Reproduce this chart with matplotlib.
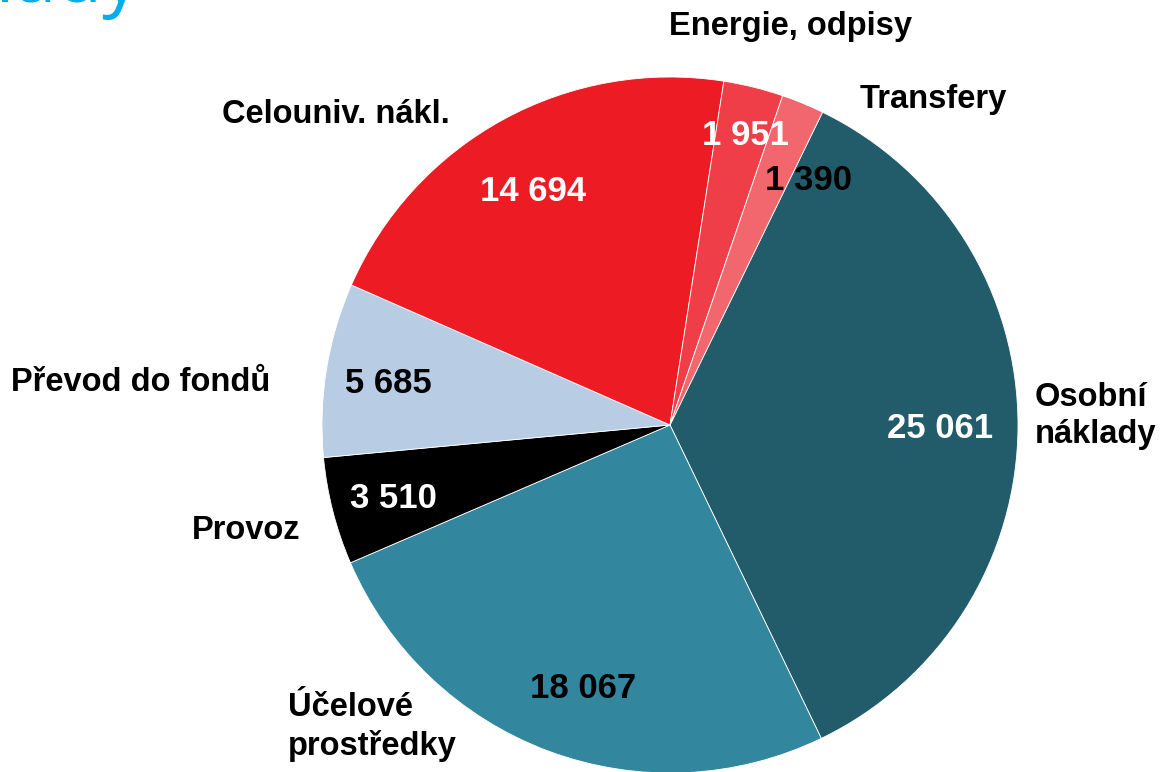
import matplotlib.pyplot as plt

plt.rcParams['font.family'] = ['Liberation Sans Narrow', 'Liberation Sans', 'DejaVu Sans']

# cost structure (thousands CZK), clockwise from the top-right
categories = ['Osobní\nnáklady', 'Účelové\nprostředky', 'Provoz', 'Převod do fondů',
              'Celouniv. nákl.', 'Energie, odpisy', 'Transfery']
values = [25061, 18067, 3510, 5685, 14694, 1951, 1390]
value_labels = ['25 061', '18 067', '3 510', '5 685', '14 694', '1 951', '1 390']
colors = ['#225B6A', '#32869E', '#000000', '#B8CCE4', '#ED1C24', '#EF3E47', '#F2666E']
value_colors = ['white', 'black', 'white', 'black', 'white', 'white', 'black']

# label positions in pie units (radius 1)
value_pos = [(0.776, -0.009), (-0.25, -0.756), (-0.796, -0.21), (-0.81, 0.118),
             (-0.394, 0.670), (0.216, 0.833), (0.397, 0.704)]
cat_pos = [(1.049, 0.026, 'left'), (-1.098, -0.868, 'left'), (-1.063, -0.302, 'right'),
           (-1.149, 0.121, 'right'), (-0.632, 0.891, 'right'), (0.345, 1.144, 'center'),
           (0.546, 0.934, 'left')]

fig = plt.figure(figsize=(11.61, 7.72), dpi=100)
ax = fig.add_axes([0, 0, 1, 1])

start = 64.0
ax.pie(values, colors=colors, startangle=start, counterclock=False,
       wedgeprops=dict(linewidth=0.6, edgecolor='white'))

for lbl, (x, y), c in zip(value_labels, value_pos, value_colors):
    ax.text(x, y, lbl, color=c, fontsize=25, fontweight='bold', ha='center', va='center')

for cat, (x, y, ha) in zip(categories, cat_pos):
    ax.text(x, y, cat, color='black', fontsize=23.5, fontweight='bold', ha=ha, va='center',
            linespacing=1.25)

# page title, mostly above the visible area
ax.text(-1.523, 1.2155, 'Náklady', color='#00AEEF', fontsize=54,
        family=['Open Sans', 'DejaVu Sans'], ha='right', va='baseline')

ax.set_xlim(-670 / 348, (1161 - 670) / 348)
ax.set_ylim(-(772 - 425) / 348, 425 / 348)
ax.set_aspect('auto')
ax.axis('off')

fig.savefig('out.png', dpi=100)
